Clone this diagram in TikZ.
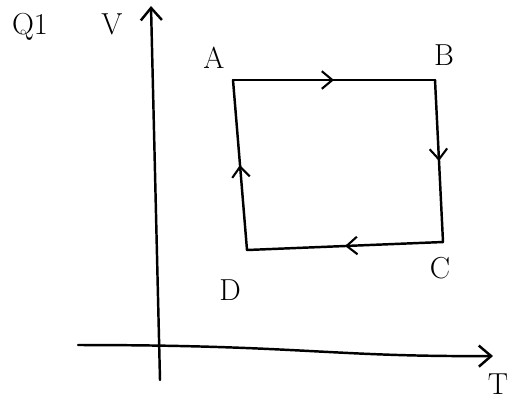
\documentclass[tikz,border=0pt]{standalone}
\usepackage{amsmath}
\usepackage{tikz}
\usetikzlibrary{arrows, positioning, calc, arrows.meta, decorations.markings}

\begin{document}
\begin{tikzpicture}[x=0.02cm, y=-0.02cm, line width=1.4pt, line cap=round,
    every node/.style={font=\LARGE, inner sep=1pt},
    flow/.style={postaction={decorate}, decoration={markings, mark=at position 0.5 with {\arrow[line width=1.2pt]{Straight Barb[length=6pt, width=10pt]}}}}]
    \useasboundingbox (0,0) rectangle (519,407);

    % axes
    \coordinate (o1) at (160,380);
    \coordinate (vtop) at (151,6);
    \coordinate (o2) at (78,345);
    \coordinate (tend) at (493,356);
    \draw[-{Straight Barb[length=7pt, width=12pt]}] (o1) -- (vtop);
    \draw[-{Straight Barb[length=7pt, width=12pt]}] (o2) .. controls (300,345) and (330,357) .. (tend);

    \node (q) at (30,27) {Q1};
    \node (v) at (112,24) {V};
    \node (t) at (498,384) {T};

    % cycle
    \coordinate (cA) at (233,80);
    \coordinate (cB) at (435,80);
    \coordinate (cC) at (443,242);
    \coordinate (cD) at (247,250);

    \node (A) at (214,58) {A};
    \node (B) at (444,55) {B};
    \node (C) at (440,268) {C};
    \node (D) at (230,290) {D};

    \draw[flow] (cA)--(cB);
    \draw[flow] (cB)--(cC);
    \draw[flow] (cC)--(cD);
    \draw[flow] (cD)--(cA);
\end{tikzpicture}
\end{document}
